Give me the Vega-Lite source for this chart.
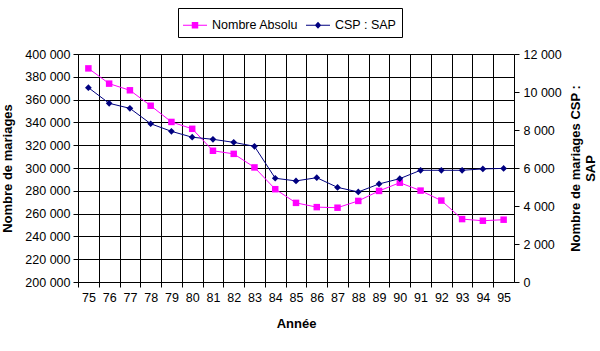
{
  "$schema": "https://vega.github.io/schema/vega-lite/v6.json",
  "width": 436,
  "height": 228,
  "autosize": "none",
  "padding": {"left": 78, "top": 54, "right": 86, "bottom": 69},
  "background": "white",
  "datasets": {
    "main": [
      {"annee": "75", "nombre": 387379, "csp": 10230},
      {"annee": "76", "nombre": 374003, "csp": 9405},
      {"annee": "77", "nombre": 368166, "csp": 9140},
      {"annee": "78", "nombre": 354628, "csp": 8330},
      {"annee": "79", "nombre": 340405, "csp": 7930},
      {"annee": "80", "nombre": 334377, "csp": 7620},
      {"annee": "81", "nombre": 315117, "csp": 7510},
      {"annee": "82", "nombre": 312405, "csp": 7350},
      {"annee": "83", "nombre": 300513, "csp": 7140},
      {"annee": "84", "nombre": 281402, "csp": 5460},
      {"annee": "85", "nombre": 269419, "csp": 5320},
      {"annee": "86", "nombre": 265678, "csp": 5490},
      {"annee": "87", "nombre": 265177, "csp": 4980},
      {"annee": "88", "nombre": 271124, "csp": 4740},
      {"annee": "89", "nombre": 279900, "csp": 5160},
      {"annee": "90", "nombre": 287099, "csp": 5440},
      {"annee": "91", "nombre": 280175, "csp": 5880},
      {"annee": "92", "nombre": 271427, "csp": 5880},
      {"annee": "93", "nombre": 255190, "csp": 5880},
      {"annee": "94", "nombre": 253746, "csp": 5950},
      {"annee": "95", "nombre": 254651, "csp": 5980}
    ],
    "legende": [
      {"serie": "Nombre Absolu"},
      {"serie": "CSP : SAP"}
    ]
  },
  "config": {
    "font": "Liberation Sans",
    "view": {"stroke": null},
    "axis": {
      "labelFont": "Liberation Sans",
      "labelFontSize": 12.5,
      "labelColor": "black",
      "titleFont": "Liberation Sans",
      "titleFontSize": 13,
      "titleFontWeight": "bold",
      "titleColor": "black",
      "domainColor": "black",
      "tickColor": "black",
      "gridColor": "black",
      "gridOpacity": 1,
      "domainWidth": 1,
      "tickWidth": 1,
      "gridWidth": 1
    },
    "legend": {
      "labelFont": "Liberation Sans",
      "labelFontSize": 12.5,
      "labelColor": "black",
      "strokeColor": "black",
      "fillColor": "white",
      "padding": 5,
      "symbolSize": 576,
      "columnPadding": 7,
      "labelOffset": 5,
      "symbolStrokeWidth": 0
    }
  },
  "layer": [
    {
      "data": {"name": "main"},
      "encoding": {
        "x": {
          "field": "annee", "type": "ordinal", "sort": null,
          "scale": {"type": "point", "padding": 0.5},
          "axis": {"title": "Année", "labelAngle": 0, "tickOffset": -10.38, "labelOffset": 10.38, "grid": true, "tickSize": 5, "labelPadding": 4, "titlePadding": 14}
        },
        "y": {
          "field": "nombre", "type": "quantitative",
          "scale": {"domain": [200000, 400000], "nice": false, "zero": false},
          "axis": {
            "title": "Nombre de mariages",
            "values": [200000, 220000, 240000, 260000, 280000, 300000, 320000, 340000, 360000, 380000, 400000],
            "labelExpr": "replace(format(datum.value, ','), ',', ' ')",
            "grid": true, "tickSize": 5, "labelPadding": 3, "titlePadding": 10
          }
        }
      },
      "layer": [
        {"mark": {"type": "line", "color": "#FF00FF", "strokeWidth": 1}},
        {"mark": {"type": "square", "filled": true, "color": "#FF00FF", "size": 42, "opacity": 1}}
      ]
    },
    {
      "data": {"name": "main"},
      "encoding": {
        "x": {
          "field": "annee", "type": "ordinal", "sort": null,
          "scale": {"type": "point", "padding": 0.5},
          "axis": {"title": "Année", "labelAngle": 0, "tickOffset": -10.38, "labelOffset": 10.38, "grid": true, "tickSize": 5, "labelPadding": 4, "titlePadding": 14}
        },
        "y": {
          "field": "csp", "type": "quantitative",
          "scale": {"domain": [0, 12000], "nice": false},
          "axis": {
            "orient": "right",
            "title": ["Nombre de mariages CSP :", "SAP"],
            "titleAngle": 270,
            "values": [0, 2000, 4000, 6000, 8000, 10000, 12000],
            "labelExpr": "replace(format(datum.value, ','), ',', ' ')",
            "grid": false, "tickSize": 5, "labelPadding": 4, "titlePadding": 6
          }
        }
      },
      "layer": [
        {"mark": {"type": "line", "color": "#000080", "strokeWidth": 1}},
        {"mark": {"type": "point", "shape": "diamond", "filled": true, "color": "#000080", "size": 45, "opacity": 1}}
      ]
    },
    {
      "data": {"name": "legende"},
      "transform": [{"filter": "datum.serie == null"}],
      "mark": {"type": "point", "filled": true, "size": 576, "opacity": 1},
      "encoding": {
        "shape": {
          "field": "serie", "type": "nominal",
          "scale": {"domain": ["Nombre Absolu", "CSP : SAP"], "range": ["M-1,-0.042H1V0.042H-1ZM-0.27,-0.27H0.27V0.27H-0.27Z", "M-1,-0.042H1V0.042H-1ZM0,-0.3L0.27,0L0,0.3L-0.27,0Z"]},
          "legend": {"orient": "none", "legendX": 100, "legendY": -46, "direction": "horizontal", "title": null}
        },
        "color": {
          "field": "serie", "type": "nominal",
          "scale": {"domain": ["Nombre Absolu", "CSP : SAP"], "range": ["#FF00FF", "#000080"]},
          "legend": {"orient": "none", "legendX": 100, "legendY": -46, "direction": "horizontal", "title": null}
        }
      }
    }
  ],
  "resolve": {"scale": {"y": "independent"}}
}
